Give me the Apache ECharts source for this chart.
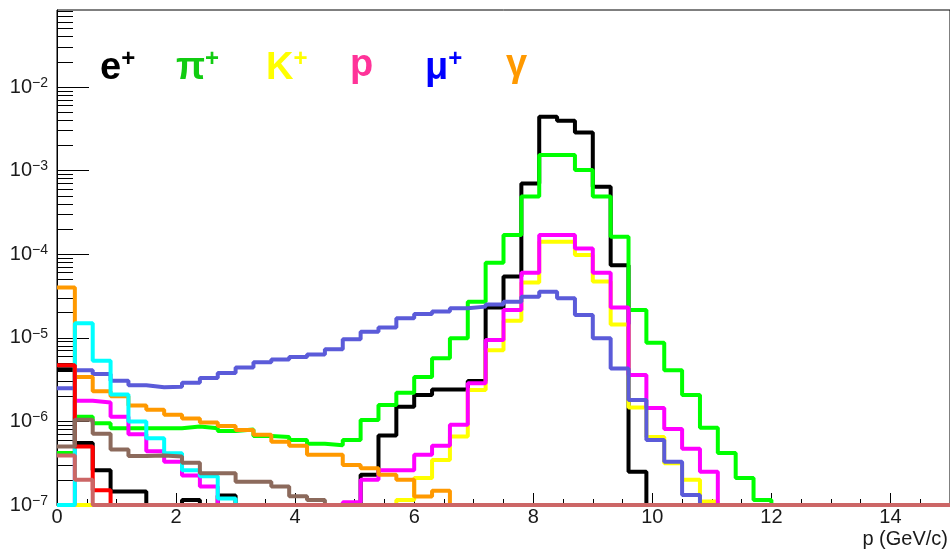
<!DOCTYPE html>
<html>
<head>
<meta charset="utf-8">
<script src="https://cdn.jsdelivr.net/npm/echarts@6/dist/echarts.min.js"></script>
<style>body{margin:0;background:#fff}</style>
</head>
<body>
<div id="main" style="width:950px;height:553px"></div>
<script>
// momentum histograms: 50 bins of 0.3 GeV/c, 0 - 15 GeV/c, log y from 1e-7
var pMin = 0, binWidth = 0.3;
var logMin = -7, logMax = -1.079;

// bin contents (0 = empty bin)
var ePlus = [4.2e-6, 5.5e-7, 2.6e-7, 1.45e-7, 1.45e-7, 0, 0, 1.15e-7, 0, 1.3e-7,
  0, 0, 0, 0, 0, 0, 0, 2.3e-7, 6.8e-7, 1.5e-6,
  2.07e-6, 2.4e-6, 2.4e-6, 3.05e-6, 2.3e-5, 5.4e-5, 7.0e-4, 4.4e-3, 3.95e-3, 2.86e-3,
  6.4e-4, 7.4e-5, 2.5e-7, 0, 0, 0, 0, 0, 0, 0,
  0, 0, 0, 0, 0, 0, 0, 0, 0, 0];
var piPlus = [4.2e-7, 1.14e-6, 9.5e-7, 8.3e-7, 8.3e-7, 8.3e-7, 8.3e-7, 8.7e-7, 8.3e-7, 7.7e-7,
  8.0e-7, 6.7e-7, 6.5e-7, 6.0e-7, 5.4e-7, 5.2e-7, 6.0e-7, 1.04e-6, 1.57e-6, 2.2e-6,
  3.4e-6, 5.7e-6, 9.9e-6, 2.7e-5, 7.9e-5, 1.7e-4, 4.9e-4, 1.54e-3, 1.54e-3, 1.02e-3,
  4.9e-4, 1.62e-4, 2.15e-5, 8.7e-6, 4.1e-6, 2.07e-6, 8.4e-7, 4.2e-7, 2.1e-7, 1.15e-7,
  0, 0, 0, 0, 0, 0, 0, 0, 0, 0];
var kPlus = [0, 0, 0, 0, 0, 0, 0, 0, 0, 0,
  0, 0, 0, 0, 0, 0, 0, 0, 0, 1.15e-7,
  2.1e-7, 3.45e-7, 6.6e-7, 2.38e-6, 7.1e-6, 1.6e-5, 4.6e-5, 1.41e-4, 1.41e-4, 9.8e-5,
  4.7e-5, 1.44e-5, 1.47e-6, 6.5e-7, 3.15e-7, 2.0e-7, 1.1e-7, 0, 0, 0,
  0, 0, 0, 0, 0, 0, 0, 0, 0, 0];
var proton = [0, 1.77e-6, 1.68e-6, 1.14e-6, 7.0e-7, 4.4e-7, 3.3e-7, 2.25e-7, 1.66e-7, 0,
  0, 0, 0, 0, 0, 0, 1.08e-7, 2.0e-7, 2.6e-7, 2.6e-7,
  4.0e-7, 5.1e-7, 9.1e-7, 2.86e-6, 9.4e-6, 2.15e-5, 6.0e-5, 1.7e-4, 1.7e-4, 1.17e-4,
  6.0e-5, 2.3e-5, 3.6e-6, 1.45e-6, 8.1e-7, 4.7e-7, 2.5e-7, 0, 0, 0,
  0, 0, 0, 0, 0, 0, 0, 0, 0, 0];
var muPlus = [2.5e-6, 4.1e-6, 3.7e-6, 3.07e-6, 2.7e-6, 2.56e-6, 2.6e-6, 2.9e-6, 3.3e-6, 3.8e-6,
  4.4e-6, 5.1e-6, 5.5e-6, 5.9e-6, 6.3e-6, 7.3e-6, 9.6e-6, 1.18e-5, 1.33e-5, 1.71e-5,
  1.93e-5, 2.06e-5, 2.25e-5, 2.36e-5, 2.5e-5, 2.7e-5, 3.1e-5, 3.56e-5, 2.97e-5, 1.87e-5,
  9.9e-6, 4.3e-6, 1.8e-6, 6.0e-7, 3.3e-7, 1.32e-7, 0, 0, 0, 0,
  0, 0, 0, 0, 0, 0, 0, 0, 0, 0];
var gamma = [4.0e-5, 3.4e-6, 2.3e-6, 2.0e-6, 1.55e-6, 1.38e-6, 1.2e-6, 1.08e-6, 9.7e-7, 8.8e-7,
  7.9e-7, 6.9e-7, 5.7e-7, 5.1e-7, 4.0e-7, 4.0e-7, 3.0e-7, 2.75e-7, 2.3e-7, 2.0e-7,
  1.26e-7, 1.48e-7, 0, 0, 0, 0, 0, 0, 0, 0,
  0, 0, 0, 0, 0, 0, 0, 0, 0, 0,
  0, 0, 0, 0, 0, 0, 0, 0, 0, 0];
var cyanH = [0, 1.49e-5, 5.3e-6, 2.1e-6, 1.0e-6, 6.3e-7, 4.15e-7, 2.6e-7, 2.2e-7, 1.2e-7,
  0, 0, 0, 0, 0, 0, 0, 0, 0, 0,
  0, 0, 0, 0, 0, 0, 0, 0, 0, 0,
  0, 0, 0, 0, 0, 0, 0, 0, 0, 0,
  0, 0, 0, 0, 0, 0, 0, 0, 0, 0];
var redH = [4.7e-6, 5.0e-7, 1.5e-7, 0, 0, 0, 0, 0, 0, 0,
  0, 0, 0, 0, 0, 0, 0, 0, 0, 0,
  0, 0, 0, 0, 0, 0, 0, 0, 0, 0,
  0, 0, 0, 0, 0, 0, 0, 0, 0, 0,
  0, 0, 0, 0, 0, 0, 0, 0, 0, 0];
var brownH = [5.0e-7, 1.05e-6, 7.1e-7, 4.6e-7, 3.85e-7, 3.9e-7, 3.8e-7, 3.2e-7, 2.4e-7, 2.4e-7,
  1.9e-7, 1.9e-7, 1.66e-7, 1.27e-7, 1.15e-7, 0, 0, 0, 0, 0,
  0, 0, 0, 0, 0, 0, 0, 0, 0, 0,
  0, 0, 0, 0, 0, 0, 0, 0, 0, 0,
  0, 0, 0, 0, 0, 0, 0, 0, 0, 0];
var rosyH = [3.9e-7, 2.0e-7, 0, 0, 0, 0, 0, 0, 0, 0,
  0, 0, 0, 0, 0, 0, 0, 0, 0, 0,
  0, 0, 0, 0, 0, 0, 0, 0, 0, 0,
  0, 0, 0, 0, 0, 0, 0, 0, 0, 0,
  0, 0, 0, 0, 0, 0, 0, 0, 0, 0];

var xMajor = [0, 2, 4, 6, 8, 10, 12, 14];
var yDecades = [-7, -6, -5, -4, -3, -2];

// histogram outline: one point per left bin edge + closing point
function toSteps(vals) {
  var pts = [];
  for (var i = 0; i < vals.length; i++) {
    pts.push([pMin + i * binWidth, vals[i] > 0 ? Math.log10(vals[i]) : logMin]);
  }
  pts.push([pMin + vals.length * binWidth, pts[pts.length - 1][1]]);
  return pts;
}

// log minor ticks 2..9 x 10^n
var yMinor = [];
yDecades.forEach(function (d) {
  for (var k = 2; k <= 9; k++) {
    var t = d + Math.log10(k);
    if (t <= logMax) yMinor.push(t);
  }
});
var xMinor = [];
for (var t = 0.5; t < 15; t += 0.5) {
  if (xMajor.indexOf(t) < 0) xMinor.push(t);
}

var hists = [
  {data: ePlus, color: '#000000'},
  {data: piPlus, color: '#00ff00'},
  {data: kPlus, color: '#ffff00'},
  {data: proton, color: '#ff00ff'},
  {data: muPlus, color: '#5b5bd9'},
  {data: gamma, color: '#ff9900'},
  {data: cyanH, color: '#00ffff'},
  {data: redH, color: '#ff0000'},
  {data: brownH, color: '#8c6a5c'},
  {data: rosyH, color: '#cc6666'}
];

var legendItems = [
  {text: '{m|e}{s|+}', color: '#000000', left: 100},
  {text: '{m|π}{s|+}', color: '#11cc11', left: 176},
  {text: '{m|K}{s|+}', color: '#ffff00', left: 266},
  {text: '{m|p}', color: '#ff3399', left: 350},
  {text: '{m|μ}{s|+}', color: '#0000ff', left: 425},
  {text: '{m|γ}', color: '#ff9900', left: 506}
];

var font = 'Liberation Sans, Arial, sans-serif';
var myChart = echarts.init(document.getElementById('main'));

var option = {
  animation: false,
  backgroundColor: '#fff',
  grid: {left: 57, right: -1, top: 10, bottom: 48, show: true, borderColor: '#000', borderWidth: 1},
  xAxis: [{
    type: 'value', min: 0, max: 15, position: 'bottom',
    axisLine: {show: true, lineStyle: {color: '#000', width: 1}},
    axisTick: {show: true, inside: true, length: 12, customValues: xMajor, lineStyle: {color: '#000'}},
    axisLabel: {customValues: xMajor, fontSize: 20, color: '#1a1a1a', margin: 2, fontFamily: font},
    splitLine: {show: false}
  }, {
    type: 'value', min: 0, max: 15, position: 'bottom',
    axisLine: {show: false},
    axisTick: {show: true, inside: true, length: 6, customValues: xMinor, lineStyle: {color: '#000'}},
    axisLabel: {show: false},
    splitLine: {show: false}
  }],
  yAxis: [{
    type: 'value', min: logMin, max: logMax, position: 'left',
    axisLine: {show: true, lineStyle: {color: '#000', width: 1}},
    axisTick: {show: true, inside: true, length: 32, customValues: yDecades, lineStyle: {color: '#000'}},
    axisLabel: {
      customValues: yDecades, margin: 9, fontFamily: font, color: '#1a1a1a',
      formatter: function (v) { return '{b|10}{s|\u2212' + Math.abs(Math.round(v)) + '}'; },
      rich: {
        b: {fontSize: 20, lineHeight: 22, fontFamily: font, color: '#1a1a1a'},
        s: {fontSize: 14, lineHeight: 16, verticalAlign: 'top', fontFamily: font, color: '#1a1a1a'}
      }
    },
    splitLine: {show: false}
  }, {
    type: 'value', min: logMin, max: logMax, position: 'left',
    axisLine: {show: false},
    axisTick: {show: true, inside: true, length: 16, customValues: yMinor, lineStyle: {color: '#000'}},
    axisLabel: {show: false},
    splitLine: {show: false}
  }],
  graphic: legendItems.map(function (it) {
    return {
      type: 'text', left: it.left, top: 47, silent: true,
      style: {
        text: it.text, fill: it.color,
        rich: {
          m: {fontSize: 38, fontWeight: 'bold', lineHeight: 44, fontFamily: font, fill: it.color},
          s: {fontSize: 24, fontWeight: 'bold', lineHeight: 30, verticalAlign: 'top', fontFamily: font, fill: it.color}
        }
      }
    };
  }).concat([{
    type: 'text', right: 2, top: 529, silent: true,
    style: {text: 'p (GeV/c)', fontSize: 20, fontFamily: font, fill: '#1a1a1a'}
  }]),
  series: hists.map(function (h) {
    return {
      type: 'line', step: 'end', symbol: 'none', silent: true,
      xAxisIndex: 0, yAxisIndex: 0,
      data: toSteps(h.data),
      lineStyle: {color: h.color, width: 4},
      itemStyle: {color: h.color}
    };
  })
};
myChart.setOption(option);
</script>
</body>
</html>
